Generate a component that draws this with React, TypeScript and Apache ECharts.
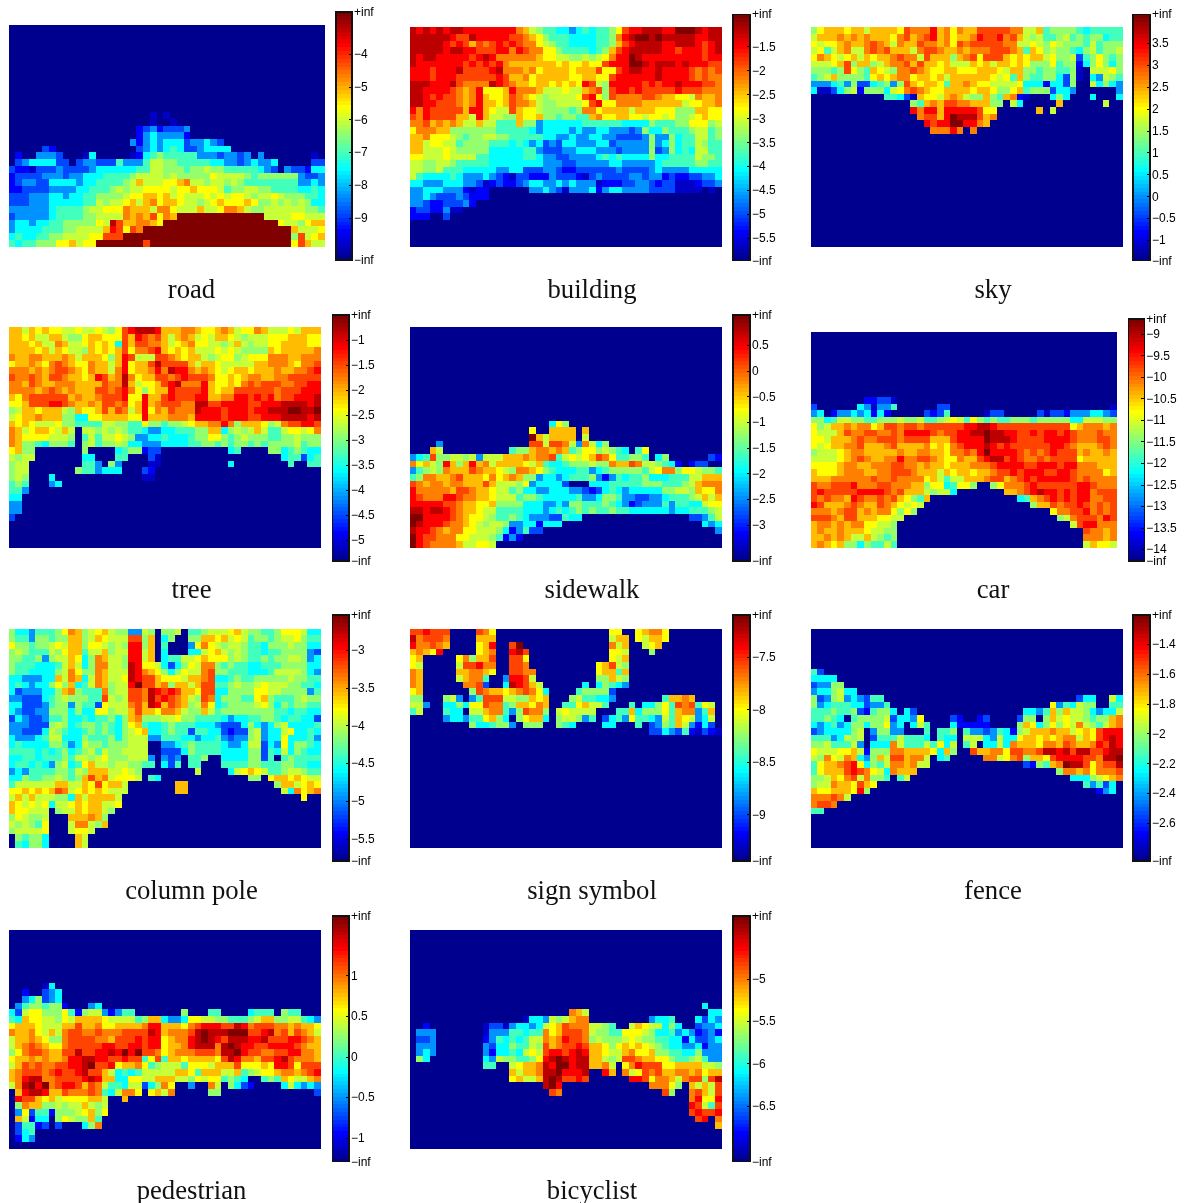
import React, { useEffect, useRef } from "react";
import * as echarts from "echarts";

// "." is -inf (the dark blue floor), 1..9,a..f climb the jet colour bar.
const blank = (n: number): string[] => Array(n).fill("");

const ROAD_ROWS = [
  ...blank(13),
  ".......... .......... .1.1",
  ".......... .......... .1..1",
  ".......... .........2 342333 4",
  ".......... .........2 4544442",
  ".......... ........42 4545553445 43",
  ".....32... .........3 4545653345 555",
  ".2..4443.. .15.....12 5676666644 434434.4.. .....1",
  ".34555533. 3443336444 6887766666 5544345445 .....33",
  "3221333433 3345555556 6887776778 7766666543 .433255",
  "2333344434 4555666678 8887877777 9888876777 7774334",
  "2344335555 455666678a 88899ab887 8878766666 6664454",
  "2233334444 5566678788 9999899a99 9867788776 6665565",
  "3334445545 5667777899 aa9a898889 8989987889 8777665",
  "3334445555 56687889a8 ab9aa98878 9a999a9778 7878755",
  "4444445666 6788999baa a8bb9888a8 89bba87788 8888776",
  "3444445666 6778888bab ac9bafffff ffffffff88 8899888",
  "4554556677 77798ecaab ba9fffffff ffffffffff 98879aa",
  "4555566677 8888adc9cb ffffffffff ffffffffff ffa8889",
  "5655667788 8899cccfff ffffffffff ffffffffff ff7c89a",
  "6566777 99a 899fffffff cfffffffff ffffffffff ff9ca88",
];
const ROAD_TICKS = [-4, -5, -6, -7, -8, -9];
const ROAD_RANGE = [-10.29, -2.71];

const BUILDING_ROWS = [
  "edededeedd ddddddba87 6655456566 79cddeeedd fffedee",
  "eeeeeedcce dddddccba9 7666555566 7bdeffefee eeeddee",
  "eeeeedcdca cbcdcdcbb9 8766555566 7acdeeeedd eeedcde",
  "eeeeedeedd cccddbdcbb 9976666567 acdeeeeedd cdddcde",
  "edeedddddc dedbbbbbba 9988778789 bddfeddddd ddddcdd",
  "edddddddcd cdcdbaaaaa aa9a99a99c dddffedeee dedddcc",
  "dddcdddecc ccdebbbab9 aaaa9aaac9 9cdeeddedd ddcbcbc",
  "dddcdddccc cccdcaab9a aaaa99aa99 cddddddedd ddcbcbb",
  "eeedddecbb bbedcbaa9a a9a9a9dc87 dddddcdcdd edddccb",
  "eeddddcbab d999adbbba 888988abc7 cddcdccccc dcccbbb",
  "eedcdccbab da99acba98 788889cd97 cbbbbccbaa 998baab",
  "eeddcccbab daa9acbba8 7788889cd9 9bbbbaaaaa a899aab",
  "dbdcccccad da988ca998 777767bb9a aaa8aaa999 777aa99",
  "cbdccccaa8 da8877a99a 7767766ab9 9aa9989989 7789a99",
  "bbcababa88 a88666a774 5555556666 6655557666 7799978",
  "9bbbaa7777 7776666654 5555454455 4443475576 6678867",
  "aab9998767 7887766666 5544544554 4333347447 5668867",
  "aa89988677 7766656545 3435544455 3444447457 5668766",
  "aa88898777 7755555664 3334455544 4344447347 5658866",
  "9988898888 6655555665 4433444456 5655557556 6668776",
  "8877887666 6655555555 4443344444 5544444566 6667766",
  "8877866655 5554455333 4432233333 3433334544 4455555",
  "8655556544 4543213322 2433321343 3334434423 2233445",
  "5544455544 3123223455 4454544412 2233443233 1112334",
  "4455544421 22......44 5431444524 5544443333 1111.1.",
  "4454333432 22",
  "4432233342",
  "23322411",
  "222..3",
];
const BUILDING_TICKS = [-1.5, -2, -2.5, -3, -3.5, -4, -4.5, -5, -5.5];
const BUILDING_RANGE = [-5.963, -0.824];

const SKY_ROWS = [
  "79aaa9aa8a aaa9cbbbda b9baaccccc bb88a67777 6566666",
  "8aaabababa aa9bcabcda b9aabdccdb ca87866786 7677566",
  "9899abaabc ba8baacbba b9cbcccccb b889879877 7686777",
  "8968ab88bc bcaaa8bccb aababbbccc ba6a978776 5786778",
  "9ba989a8a9 aabcbb8caa a7abc9ccca 9a9aa89778 3679767",
  "8889ac7aa7 8abbcacaa9 a888a9a8aa 9a97779677 2579757",
  "77767c976a 987bbcba99 aa999aaa98 aa77677667 1.88897",
  "678a777769 a9abb9aa9a 8aaaaaa989 6a76677537 1.54876",
  "4445647335 6747ca9aa9 6aaba99888 8955525537 ..85754",
  "5113578277 7589bcba99 aaaa9aa977 9a67773554 ......4",
  ".......... .66531a998 aba877a76a b21...575. ..5...5",
  ".......... .....76aba ccbbaaa77. 85.....a.. ....8",
  ".......... .....dbdda dddddc99.. ....a.8",
  ".......... ......bcca dfeeecab",
  ".......... .......dcd dffddba",
  ".......... ........bb bdb.b",
];
const SKY_TICKS = [3.5, 3, 2.5, 2, 1.5, 1, 0.5, 0, -0.5, -1];
const SKY_RANGE = [-1.46, 4.16];

const TREE_ROWS = [
  "aa8a9a9988 9889879cde eedaaabba9 9aba899ba8 8898aaa",
  "aa9a88aa87 79aa999cad cbca8aba89 8aa9878889 99aaa99",
  "aaa9a88ba8 89a9a95cac cbba89ab99 8878a87889 9aaaa99",
  "aaaa9a8a98 87a9a9ac9b bcda9a9a88 898987777a 9aaaaab",
  "baabbaaaba 8aaa97adc8 88ccba9aa8 789978999b bbaabbb",
  "9aaba9bcba 99baa8ad9a acecccca8a a988888aab bba9bbc",
  "bbbababccb a9baa8bd9a abdbeddbab a989aa9aaa baabbcd",
  "cbbcbaccba a9adcabeb9 aaccbcdccc b99a9abbaa bbccccc",
  "bbacbaabbb aaaacbbea8 99acdebbbd a99a9bcbcc cbbccdd",
  "bbbbabcbab aaaccbcdb9 79aadccccd a9aacccccc bcccddd",
  "a9bcccccca baabcccd99 daacdcccdd aabbddcdcd bccddde",
  "99acccddcb aabaccbc9a dabcccbbee ccddddccdd deeeede",
  "78aa9aaa87 a99acacb8a d9bacbbbed ddcdddcdde eeffeef",
  "89aabaaa77 5599aaaa99 daaabbbadd ddcdddccdd deeeede",
  "a9a9888977 6666887766 97767789aa bbdb7aaa97 8bccddc",
  "ba89aa98a8 .887878766 5445566677 aa57878a86 689989b",
  "ba99998887 .686889874 4556555677 9976787776 6778777",
  "ba77657776 .786778755 4445555667 7676776767 7778677",
  "9a77...... .7....5677 233....... ...56....7 7567655",
  "8788...... .55...66.. .31....... .......... .566356",
  "788....... .664.74... .11....... ...5...... ..6..66",
  "788....... 7664555... 32",
  "787...5... .......... 11",
  "676...45",
  "664",
  "55",
  "44",
  "44",
  "3",
];
const TREE_TICKS = [-1, -1.5, -2, -2.5, -3, -3.5, -4, -4.5, -5];
const TREE_RANGE = [-5.42, -0.5];

const SIDEWALK_ROWS = [
  ...blank(14),
  ".......... .......... .597",
  ".......... ........9. .aaaa.a",
  ".......... ........fa 8aaaa.8",
  "....4..... ........cc 8ccb84b857",
  "...a8..... .....677ab baba679978 765.69",
  "456c778878 4888aaabab bc68989acb 966776.57. .....32",
  "b9a87da7ad ab8aaaa98a 6556777877 baacb88765 2.233",
  "46787baaac baa987bba9 7655566456 77777689bb 7998776",
  "67bbaabcaa a9b9aba774 5545666742 4656675556 6688aaa",
  "cbabbabbaa aca8887945 5553...555 6666677766 678abbb",
  "dbbbbbaccb aa98867554 4555443235 6545555577 887a99b",
  "dcbbbddcbb aa98886776 5555564457 7644334456 6678a8a",
  "dddddccbaa 99a7777555 4454776667 6542344464 6655899",
  "eedeedcbaa 9886666555 4565676766 7665555554 5566678",
  "ffddddcba9 9876676544 433655.... .......... ..33468",
  "fedddcbba9 8788744552 555....... .......... ....545",
  "eddcbabb99 8887524633 .......... .......... ......4",
  "fdccbbb998 8876242",
  "fdcbbbba88 998",
];
const SIDEWALK_TICKS = [0.5, 0, -0.5, -1, -1.5, -2, -2.5, -3];
const SIDEWALK_RANGE = [-3.7, 1.086];

const CAR_ROWS = [
  ...blank(10),
  "........22 331",
  "3......541 446......3 3......... .......... .....1",
  "45.2445452 52.....323 6.....133. ....313324 445543",
  "7756887766 7778778667 8986976766 7776777775 588877",
  "978aababb9 accbccbccc cccddeedcc ccccccccc9 abbbab",
  "9888acbbcc bbcbddddcb ccddeefeed dccdcddcdc bbbcbb",
  "998aaabcbb cccbccccaa acddddfeee dccccddddc bbbccb",
  "989aabbcaa abcaaaab9a 9bcdddedcd ccccccddcb aaabcb",
  "78889abbaa aaabaabbaa 9bbcbdfddd dcbcbcdccc abaaba",
  "88889abcba abbdbbccba 99baacdeec dcbbcbcccc 9aaaaa",
  "9999abbaab bbccbbabaa 9aaabbbcdd ddccdddcdd bbbaaa",
  "a999abbbaa bbcccbaaa8 a9aa9aabcc dcdddccddc bbbb9a",
  "aaabbbbbbc bbcbbbb9a8 688aaabcca bcdcdddddc bcbbbb",
  "cbbcccdbbb ccbbbaa799 56997..79b bbcdcccccc ddcbbb",
  "cdcccccddd dcbcaaa878 85.......a abcdeddcdc ddbccc",
  "cbcbbadcbb cbca976a.. .......... .56abcdcdc ddbbcc",
  "dcaaabcbaa cba98 98... .......... ...7aacbcc dcbcbc",
  "bbbabccaba bb9797.... .......... ......9bbc cdbcbc",
  "cccbaccaaa 9988...... .......... .......78b cccbdc",
  "abbababb99 887....... .......... .........8 cddbbb",
  "abaabaaa98 877....... .......... .......... .cbbab",
  "aababa88a8 767....... .......... .......... .bbbab",
  "aba9a77576 686....... .......... .......... .8a998",
];
const CAR_TICKS = [-9, -9.5, -10, -10.5, -11, -11.5, -12, -12.5, -13, -13.5, -14];
const CAR_RANGE = [-14.27, -8.65];

const POLE_ROWS = [
  "755466679b a789a87744 87.778.667 8889a87766 7999855",
  "766477677a a78a9888cc 7a.57..77a a9a8986776 7889766",
  "977677898a a7998787dd 7a.6...49b 9878876657 7787755",
  "787666879a a688a788dd 8a.5...558 9a87876656 6777743",
  "776674788a 957ba887dd 8a.566889a 9997876676 7788745",
  "766655568a 857bb887ed 998535798b b767665566 6777755",
  "766555578b 977ba888ed ba9757988b c776665556 8888754",
  "5544455a8b a58ba889ed cca9998aab c556766777 7787766",
  "565455797a 568ba788df ccab7aa8ac c667877898 8877665",
  "53444557ab 7666b788cc bedcdcaa9c c557777998 8777746",
  "4433356787 7766c878cc becdcba87c b5777669a7 6667877",
  "5533346774 76639888bc aedacba78b 9567777897 5767766",
  "5433447775 75599788ac aa9bba877a 8677777777 6656655",
  "3543346675 56566757ab 7778897766 6654556677 6566553",
  "4443337875 677676579a 6556766655 5433357545 7855556",
  "4433358765 5676765789 a556766366 5532337845 5895565",
  "5444568855 5766675788 8446665545 5643447845 5955564",
  "5655557764 5877677788 8..4456766 6654458835 4957765",
  "6666565675 6786877888 8..3335766 6655557736 5857655",
  "5566566676 8878977788 84.434.667 ..55557736 .676666",
  "5665654785 69a8878877 66.536.66. ..66667766 6776655",
  "4546666776 87aaa88987 ........8. ...589a986 6788766",
  "5576677876 7acab89998 .65....... ......77.9 aa9a988",
  "6888888aa8 8a9c9aa8.. .....aa... .......... 7aa89a9",
  "99a9a9acb8 9a9a9888.. .....aa... .......... .85b9ab",
  "8a8a888775 a8aaaa8... .......... .......... ....9",
  "a989895889 a9aa889",
  "a99888.788 a9aa87",
  "798778...a aaba7",
  "878769...8 bb87a",
  "788889...8 998",
  ".76775.... a8",
  ".65775.... a8",
];
const POLE_TICKS = [-3, -3.5, -4, -4.5, -5, -5.5];
const POLE_RANGE = [-5.79, -2.537];

const SIGN_ROWS = [
  "ccdccc.... cb9....... .......... 99..9abb9.",
  "ebcccb.... aaa....... .......... 8aa.98aa9.",
  "dbbcba.... 9ad..cf... .......... b8a..89a..",
  "aba9d..... 9ab..dec.. .......... 998...7...",
  "9a.....9b7 aac..cc9.. .......... 98a.......",
  "98.....8cc dbb..ccb.. ........9a c87.......",
  "ba.....aab ba9..ccbb. ........9a a6a.......",
  "ba.....8ab b6..4ddc8. ........77 a87.......",
  "ba......bb c3..5edca8 ......5.57 654.......",
  "9a.......7 cbaa9abcb9 5....67777 3.........",
  "77...784.4 6ccc8877a9 a...786655 4.......6a aba",
  "884..55759 9cbb67aa9b a..669a886 ...6.55796 cbc698.",
  "68...655.8 8abb647cbb 7.898888.. .66a577796 abb46a.",
  ".....45546 69a75.79aa 5.788746.3 5649665486 a98458.",
  ".........7 556774.777 ..765....5 5...6.3476 a84253.",
  ".......... .......... .......... ......3354 3621321",
];
const SIGN_TICKS = [-7.5, -8, -8.5, -9];
const SIGN_RANGE = [-9.44, -7.1];

const FENCE_ROWS = [
  ...blank(6),
  "63",
  "5555",
  "34477",
  "4557855",
  "7347845436 6......... .......... .......... 355..85",
  "7456665534 46........ .......... ......9465 877..66",
  "6667667326 775.53.... .......... ..5546a7a8 8754558",
  "66765.6777 7835549... .32..23... .377.7a898 87677ab",
  "5456457757 7945.586.. .522222... .7a9579798 b8768ab",
  "34555578.4 7744...6.6 67.6443465 278aaabaa8 9a9cddd",
  "66645878.3 66686665.6 55.8885485 59aa9a9abb 8a9cded",
  "77866684.5 55b8666869 58.68.5585 baaa9bbacb aabdced",
  "988899a827 77bbaaaa95 a7..caabb9 ccbbceedec eeccdee",
  "87b98ba547 a8ccabb8.5 6.....bb89 bc7aa9cddd dccbeef",
  "69aabcd957 68bbab88.. .......... ..3276abfe ec9bcce",
  "69aaacdcb9 85baaa.... .......... .......7bb ab9bbbc",
  "778a9bc8b7 76.68..... .......... .........5 55789ab",
  "788baa9ca9 .......... .......... .......... .64635.",
  "a99aaa9d7. .......... .......... .......... ...245.",
  "bbbcb8",
  "bccb",
  "66",
];
const FENCE_TICKS = [-1.4, -1.6, -1.8, -2, -2.2, -2.4, -2.6];
const FENCE_RANGE = [-2.852, -1.206];

const PEDESTRIAN_ROWS = [
  ...blank(8),
  ".....15",
  "..2..345",
  "..457345",
  ".46776772. ..45",
  "5389977796 278842466. ......7... 66....5666 .766",
  "65a9988798 aaaa988886 7aa5445998 8776667 8aa 7788654",
  "9aaa9888aa caab99aaaa bddaaa9bcd ddccedbccc bbabaa9",
  "baab98a8bc cbbcbbbccc cedabbbcef eeefffccde bcacba8",
  "8aaba977bc cccbbacccd cdd9abbdef edceeeddec ccddcba",
  "8abcba99bc ccccddccdd cdd9aabdee ebefeddccd dddcbaa",
  "79bccbaacc eccddedfdf ccb9abbbcc cbeefdccbb ccddbba",
  "9aababaabd deeddccdcc 69c6aa9aaa a9cedbbacc decbbba",
  "8acbcbbccd defccd9aab 9678886999 8aaac999a9 ddc9ccc",
  "abcccbcdcc decca85656 88888aa96a aa88a67899 abbabcd",
  "abdeebbccc cdedaa5599 88aaa88798 996765..67 6a988ab",
  "8befdfbcdd cacb866588 357b9..4.. b8.7532... .585454",
  ".adeedaacb bbcb658bb9 .9a8b..... 77........ ......3",
  ".dcca9a899 99aa8..a..",
  ".7baa77878 8a878",
  ".493662777 89a79",
  ".a8255.798 77a6",
  ".36623.3.. .57b",
  ".356",
  ".254",
];
const PEDESTRIAN_TICKS = [1, 0.5, 0, -0.5, -1];
const PEDESTRIAN_RANGE = [-1.292, 1.735];

const BICYCLIST_ROWS = [
  ...blank(11),
  ".......... .......... .......... .......... ....5",
  ".......... .......... ....ba8... .......... .....55",
  ".......... .......155 4878abb... ......4556 ...5354",
  "..2....... .133145545 89acbbb887 6..8a98857 5..3445",
  ".444...... .144466566 b9acccb877 6699987556 4542342",
  ".334...... .246565688 babdccb787 7789877665 5253345",
  ".444...... .435576687 cabccdcaa9 79a9a98765 5445244",
  ".454...... .425565898 cddcdedaa9 88ab99a776 6557444",
  ".75....... .548776679 defedeeaa8 78ccbaa997 6678644",
  ".......... .66..89aab edffdeeaab 8.9bdccc99 aaaa887",
  ".......... .....a8aab eefddde..d a.b89cbcaa bbab9aa",
  ".......... .....9a88a efeccdc... ...ddc9bba 8bcc7ce",
  ".......... .......... efd....... ......bbb9 7.a8a8c",
  ".......... .......... .cb....... ........c7 ..bca8c",
  ".......... .......... .......... .......... ..bd99d",
  ".......... .......... .......... .......... ..dc86c",
  ".......... .......... .......... .......... ..cdccd",
  ".......... .......... .......... .......... ...cd.b",
  ".......... .......... .......... .......... ......a",
];
const BICYCLIST_TICKS = [-5, -5.5, -6, -6.5];
const BICYCLIST_RANGE = [-7.158, -4.256];

const LABELS = ["road", "building", "sky", "tree", "sidewalk", "car", "column pole", "sign symbol", "fence", "pedestrian", "bicyclist"];
const ROWS = [ROAD_ROWS, BUILDING_ROWS, SKY_ROWS, TREE_ROWS, SIDEWALK_ROWS, CAR_ROWS, POLE_ROWS, SIGN_ROWS, FENCE_ROWS, PEDESTRIAN_ROWS, BICYCLIST_ROWS];
const TICKS = [ROAD_TICKS, BUILDING_TICKS, SKY_TICKS, TREE_TICKS, SIDEWALK_TICKS, CAR_TICKS, POLE_TICKS, SIGN_TICKS, FENCE_TICKS, PEDESTRIAN_TICKS, BICYCLIST_TICKS];
const RANGES = [ROAD_RANGE, BUILDING_RANGE, SKY_RANGE, TREE_RANGE, SIDEWALK_RANGE, CAR_RANGE, POLE_RANGE, SIGN_RANGE, FENCE_RANGE, PEDESTRIAN_RANGE, BICYCLIST_RANGE];

// Layout, in page pixels: heat box [x0, x1, y0, y1], colour bar box, caption centre and top, grid size.
const LAYOUT = [
  { heat: [9, 325, 25, 246.7], bar: [336, 352, 12, 260], cx: 191.5, ty: 275, cols: 47, rows: 33 },
  { heat: [410, 722, 27.7, 246.7], bar: [733, 750, 14.3, 260.5], cx: 592, ty: 275, cols: 47, rows: 33 },
  { heat: [811, 1123, 27.7, 246.7], bar: [1133, 1150, 14.3, 260.5], cx: 993, ty: 275, cols: 47, rows: 33 },
  { heat: [9, 321, 327.7, 547.7], bar: [332.3, 349, 315, 561], cx: 191.5, ty: 575, cols: 47, rows: 33 },
  { heat: [410, 722, 327.7, 547.7], bar: [733, 750, 315, 561], cx: 592, ty: 575, cols: 47, rows: 33 },
  { heat: [811, 1117, 332, 547.7], bar: [1128.3, 1144.3, 319, 561], cx: 993, ty: 575, cols: 46, rows: 33 },
  { heat: [9, 321, 629, 847.7], bar: [332.3, 349, 615, 861], cx: 191.5, ty: 876, cols: 47, rows: 33 },
  { heat: [410, 722, 629, 847.7], bar: [733, 750, 615, 861], cx: 592, ty: 876, cols: 47, rows: 33 },
  { heat: [811, 1123, 629, 847.7], bar: [1133, 1150, 615, 861], cx: 993, ty: 876, cols: 47, rows: 33 },
  { heat: [9, 321, 930, 1149], bar: [332.3, 349, 916, 1161.7], cx: 191.5, ty: 1176, cols: 47, rows: 33 },
  { heat: [410, 722, 930, 1149], bar: [733, 750, 916, 1161.7], cx: 592, ty: 1176, cols: 47, rows: 33 },
];

const LEVEL_POS: Record<string, number> = {
  ".": 0, "1": 0.07, "2": 0.125, "3": 0.195, "4": 0.27, "5": 0.375, "6": 0.44, "7": 0.52, "8": 0.57,
  "9": 0.625, a: 0.69, b: 0.75, c: 0.81, d: 0.875, e: 0.94, f: 1,
};

const clamp01 = (v: number) => Math.max(0, Math.min(1, v));
const JET: string[] = Array.from({ length: 64 }, (_, i) => {
  const x = (i + 1) / 64;
  const ch = (c: number) => Math.round(255 * clamp01(1.5 - Math.abs(4 * x - c)));
  return `rgb(${ch(3)},${ch(2)},${ch(1)})`;
});

const cellValue = (ch: string, lo: number, hi: number) => {
  const x = LEVEL_POS[ch] ?? 0;
  if (ch === ".") return lo;
  const t = clamp01((64 * x - 1) / 63);
  return Math.min(hi, lo + t * (hi - lo));
};

const fmtTick = (v: number) => (v < 0 ? "\u2212" + String(Math.abs(v)) : String(v));

function buildOption() {
  const grid: any[] = [];
  const xAxis: any[] = [];
  const yAxis: any[] = [];
  const series: any[] = [];
  const visualMap: any[] = [];
  const title: any[] = [];
  const graphic: any[] = [];

  LABELS.forEach((label, p) => {
    const L = LAYOUT[p];
    const [lo, hi] = RANGES[p];
    const ticks = TICKS[p];
    const g = p * 2;
    const [hx0, hx1, hy0, hy1] = L.heat;
    const [bx0, bx1, by0, by1] = L.bar;

    grid.push({ left: hx0, top: hy0, width: hx1 - hx0, height: hy1 - hy0, containLabel: false });
    grid.push({ left: bx0, top: by0, width: bx1 - bx0, height: by1 - by0, containLabel: false });

    const colCats = Array.from({ length: L.cols }, (_, i) => String(i));
    const rowCats = Array.from({ length: L.rows }, (_, i) => String(i));
    const heatX = xAxis.length;
    xAxis.push({ type: "category", gridIndex: g, data: colCats, show: false });
    const heatY = yAxis.length;
    yAxis.push({ type: "category", gridIndex: g, data: rowCats, inverse: true, show: false });

    const data: number[][] = [];
    for (let r = 0; r < L.rows; r++) {
      const row = (ROWS[p][r] ?? "").replace(/ /g, "").padEnd(L.cols, ".").slice(0, L.cols);
      for (let c = 0; c < L.cols; c++) data.push([c, r, cellValue(row[c], lo, hi)]);
    }
    const heatSeries = series.length;
    series.push({ type: "heatmap", name: label, xAxisIndex: heatX, yAxisIndex: heatY, data, progressive: 0, animation: false });

    const barX = xAxis.length;
    xAxis.push({ type: "category", gridIndex: g + 1, data: ["0"], show: false });
    const barY = yAxis.length;
    yAxis.push({ type: "category", gridIndex: g + 1, data: JET.map((_, i) => String(i)), show: false });
    yAxis.push({
      type: "value",
      gridIndex: g + 1,
      position: "right",
      min: lo,
      max: hi,
      z: 6,
      axisLine: { show: false },
      splitLine: { show: false },
      axisTick: { show: true, inside: true, length: 3, customValues: ticks, lineStyle: { color: "#000", width: 1 } },
      axisLabel: {
        show: true,
        customValues: [lo, ...ticks, hi],
        showMinLabel: true,
        showMaxLabel: true,
        margin: 2,
        color: "#000",
        fontSize: 12,
        fontFamily: "Liberation Sans",
        formatter: (v: number) => (v === hi ? "+inf" : v === lo ? "\u2212inf" : fmtTick(v)),
      },
    });
    const barSeries = series.length;
    series.push({
      type: "heatmap",
      name: label + " colour bar",
      xAxisIndex: barX,
      yAxisIndex: barY,
      data: JET.map((_, i) => [0, i, lo + ((hi - lo) * i) / 63]),
      progressive: 0,
      animation: false,
    });

    visualMap.push({
      show: false,
      type: "continuous",
      min: lo,
      max: hi,
      dimension: 2,
      seriesIndex: [heatSeries, barSeries],
      inRange: { color: JET },
    });

    title.push({
      text: label,
      left: L.cx,
      top: L.ty,
      textAlign: "center",
      padding: 0,
      textStyle: { fontFamily: "Liberation Serif", fontSize: 26.7, fontWeight: "normal", color: "#111" },
    });

    graphic.push({
      type: "rect",
      z: 20,
      silent: true,
      shape: { x: bx0, y: by0, width: bx1 - bx0, height: by1 - by0 },
      style: { fill: "none", stroke: "#111", lineWidth: 1.4 },
    });
  });

  return { animation: false, backgroundColor: "#fff", grid, xAxis, yAxis, series, visualMap, title, graphic };
}

export default function App() {
  const ref = useRef<HTMLDivElement>(null);
  useEffect(() => {
    if (!ref.current) return;
    const chart = echarts.init(ref.current, undefined, { renderer: "svg" });
    chart.setOption(buildOption() as any);
    return () => chart.dispose();
  }, []);
  return (
    <>
      <style>{"svg path { shape-rendering: crispEdges; }"}</style>
      <div ref={ref} style={{ position: "absolute", left: 0, top: 0, width: 1184, height: 1203, filter: "blur(0.35px)" }} />
    </>
  );
}
